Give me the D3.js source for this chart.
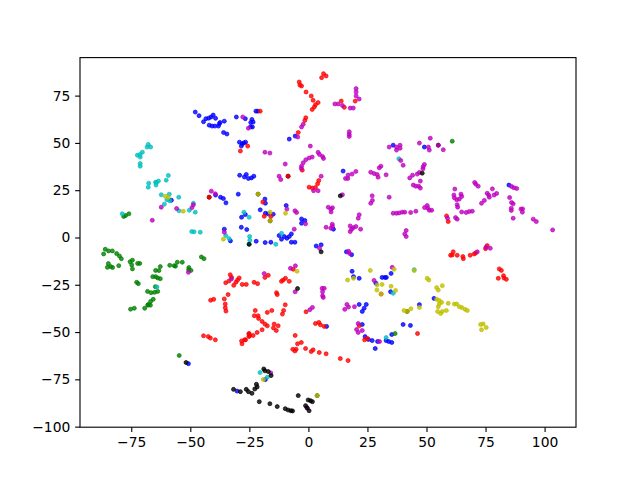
<!DOCTYPE html>
<html>
<head>
<meta charset="utf-8">
<script src="https://cdn.jsdelivr.net/npm/d3@7"></script>
<style>
  html, body { margin: 0; padding: 0; background: #fff; }
  svg { display: block; }
  text { font-family: "DejaVu Sans", sans-serif; }
</style>
</head>
<body>
<script>
const blue = [[-47.9,66.3],[-46.3,64.4],[-44.4,61.2],[-43.4,62.8],[-42.2,63.1],[-41.2,63.7],[-40.3,64.7],[-39.3,63],[-37.4,60.8],[-35.6,61.5],[-42,59.4],[-40.8,58.9],[-39.6,58.9],[-38.1,58.9],[-37.7,60.1],[-35.9,55.5],[-34.5,54.7],[-30.5,63.7],[-26.7,62.8],[-29.2,50.4],[-26.6,50.4],[-28,49.5],[-28.4,48.3],[-27.4,50],[-29.1,32.9],[-26.3,33.3],[-27.1,32],[-25.4,31.2],[-24.1,31.5],[-23.1,32.4],[-58,19.7],[-29.7,22.9],[-39.3,22.4],[-37.2,21.3],[-36,20.6],[-34.9,18.3],[-28.3,10.7],[-26.7,12.1],[-28.4,5.4],[-26.1,4.2],[-35.6,4.4],[-33,-1.8],[-30.2,-81.2],[-22.2,66.8],[-21.4,66.8],[-8.1,52],[-5.6,53.6],[-23.9,62.4],[-23.4,61],[-24.4,60.8],[-23.7,58.4],[-24.5,58.5],[14.7,35.1],[35.9,48.8],[49.1,47.8],[-18.4,20.3],[-18.2,18.1],[-9.4,16.9],[-20.4,14.6],[-18.2,12.8],[-17,12.5],[-14.9,12.3],[-2.9,9.8],[-1.5,9],[-2.9,7.5],[-7.2,1.9],[-8.1,0.5],[-9.1,-0.4],[-10.2,0.5],[-11.4,-0.9],[-12.4,1],[-7.2,-2.5],[-5.7,-2.5],[-22.1,-2],[-18.3,-2.7],[-15.9,-2.5],[3.3,-4.5],[5.4,-3.9],[10.6,4.4],[16.1,-7.6],[18.3,-9.1],[18.5,-17.9],[19.1,-20.7],[21.5,-21.6],[28.6,-24.2],[31.2,-21.1],[32.4,-21.1],[33,-21.1],[35,-19],[34.8,-28.7],[21.5,-35.4],[84.9,27.7],[53.2,-32.2],[47,-35.5],[7.7,-47],[22.8,-46],[24.5,-35.4],[23.6,-37.4],[22.8,-39.1],[24,-52.4],[25.4,-53.9],[27,-54.5],[29.3,-55],[28.3,-58.7],[32.9,-54.5],[34,-55],[35.3,-55.5],[35.3,-51.3],[40.1,-46],[43.2,-46.5],[-18.2,-75.1],[-50.8,-66.7]]

const green = [[-78.2,11.1],[-77.4,11.6],[-76,12.5],[-86,-6.2],[-86.7,-8.7],[-84.6,-7.1],[-83,-7.1],[-81.2,-8.5],[-80,-9.8],[-79.2,-11.2],[-84.7,-13.8],[-85.1,-15.8],[-83.7,-15.4],[-82.9,-15.9],[-80.3,-14.9],[-75.5,-12.8],[-74.5,-12],[-74.8,-14.5],[-74.5,-16.6],[-72.3,-13.7],[-71.4,-13.7],[-62.7,-15.4],[-63.3,-17.5],[-64.7,-17.4],[-65.9,-20.7],[-64.7,-20.7],[-63.8,-21.4],[-62.7,-21.8],[-58.7,-14.7],[-56.8,-14.9],[-55.5,-13.1],[-53.4,-13.1],[-56.3,-15.2],[-50.6,-15.9],[-49.7,-17.4],[-50.7,-17],[-45.3,-10.3],[-44.2,-11.2],[-72.7,-23.7],[-72,-24.4],[-64.8,-26],[-68.1,-28.5],[-66.6,-29.2],[-65.1,-29],[-63.8,-28.5],[-65.7,-32.7],[-66.8,-33.8],[-67.8,-35.4],[-75.3,-37.9],[-73.7,-37.4],[-69.3,-37.4],[-68,-35.8],[-66.9,-35.8],[-54.7,-62.4],[60.9,50.9],[36.7,-50.8]]

const red = [[-28.8,45.7],[-25.7,48.3],[-42,21.3],[-33.1,-19.7],[-32.5,-21.1],[-29.3,-21.4],[-30,-22.5],[-30.7,-23.7],[-31.6,-25.3],[-35,-23.9],[-33.6,-23],[-28,-24.8],[-26.3,-24.8],[-34,-30.2],[-35.6,-32.5],[-40.1,-32.7],[-41.4,-33.2],[-35.2,-35.2],[-35.2,-37.2],[-34.9,-38.9],[-44.4,-52],[-42.4,-52.4],[-41.5,-53.2],[-39.4,-54.1],[-28.3,-54.7],[-27,-54.1],[-28.1,-56.2],[-25.2,-50.9],[-25.2,-52.4],[-3.9,82.2],[-3.6,80.6],[-2.9,80.1],[6.4,86.6],[7.5,85.4],[5.6,84.5],[-1,76.9],[1.2,74.8],[2,72.5],[4.1,71.3],[3,70.2],[2.5,69],[1.6,67.7],[-1.1,63.3],[-1.5,61.9],[-4.3,55.5],[13.9,72.1],[15.2,68.8],[19.8,72.1],[-20.4,66.8],[-2.6,35.6],[4.4,30.1],[-8.6,32.4],[0.3,26.6],[1.7,26.1],[3,26.4],[3.9,28.4],[-19.3,18.7],[-15.9,11.1],[-18.7,11.2],[-6.4,-16.8],[-18.4,-21.1],[-17,-20],[-23,-23.7],[-21.5,-24.4],[-11.4,-23.2],[-9.7,-21.6],[-8.1,-23.2],[-10.7,-22.5],[-13.5,-29.2],[-13.2,-30.2],[-9.8,-35.6],[30.8,-29.9],[58.5,11.4],[59.2,8.4],[60.2,-9.4],[60.9,-9.2],[61.3,-7.6],[63,-9.4],[65.4,-10.1],[65.6,-11.2],[68.5,-9.4],[70.2,-8.7],[70.8,-8.2],[75.7,-4.3],[75,-5.9],[80.8,-16.6],[81.7,-17.4],[80.4,-21.6],[82.6,-20.2],[82.8,-21.4],[83.8,-22.1],[46.2,-50.8],[-10.5,-38.6],[-11,-40.5],[-15.5,-38.6],[-17.4,-39.6],[-22.5,-38.6],[-22.9,-41.4],[-21.3,-41.4],[-21.1,-42.8],[-19.6,-44.4],[-18.4,-45.8],[-17.4,-46.7],[-14.5,-45.8],[-12.8,-46.7],[-14.8,-47.8],[-13.6,-49.2],[-19.6,-48.8],[-21.7,-50.2],[-23.4,-51.8],[-25.1,-50.8],[-24.9,-52],[-26.6,-54.1],[-5.6,-51.8],[-4.6,-56.2],[-3,-55.5],[-6.6,-59.1],[-5.2,-59.1],[-5.7,-60],[-1.2,-58.7],[2,-59.4],[1.2,-60.3],[4.6,-60.8],[7.5,-61.5],[13.5,-64],[16.8,-65.1],[-1,-39.3],[3,-45.5],[4.4,-44.9],[5.1,-46.2],[6.7,-47],[23.8,-54.1],[25,-53.4],[21.5,-46.7]]

const cyan = [[-67.8,49.2],[-68.3,47.8],[-66.8,47.8],[-70.3,45.1],[-72.4,43.5],[-71.3,43.9],[-71.2,42.5],[-71.2,39.1],[-71.2,37.7],[-59.3,32.8],[-60.2,30.3],[-63.5,29.8],[-64.7,29.2],[-67.6,28.7],[-67.8,26.6],[-64.4,29.1],[-64.5,27.7],[-62.3,22.6],[-58.9,22.9],[-54.9,21.3],[-59.9,19.9],[-58.7,19.4],[-61,17.6],[-54.8,14.1],[-50.4,14.4],[-48.7,18.1],[-47.9,13.4],[-49.4,3.1],[-48.4,3],[-45.8,2.8],[-78.8,12.5],[-64.1,-26.2],[-35,1],[-33.6,-0.6],[-27.3,13.4],[-24.9,0.5],[-24.8,-1.5],[-25.1,10.7],[-11.4,2.2],[-25.1,-3.6],[-13.8,-3.6],[35.9,-29.5],[38.3,41.6],[32.9,-52.9],[-20.5,-71.4],[-17.4,-73.9],[44.8,-17]]

const magenta = [[-27.8,63.7],[-25.4,57.8],[-41.1,24.5],[-62.3,16],[-66.1,9.1],[-55.8,15.3],[-48.7,17.3],[-49.3,15.8],[-39.4,23.1],[-35.6,2.8],[-50.8,-18.4],[-32.6,-21.9],[-18.4,45.1],[-16.3,44.6],[-4.5,53.1],[-2.9,58.4],[-2.2,59.8],[11.2,70.6],[12.6,70.6],[14.4,69.8],[17.7,68.4],[19,68.4],[20.2,78.7],[20.2,76.9],[20.2,74.8],[21.5,73.2],[17.3,55.9],[17.3,54.5],[17.3,53.4],[0.8,48.3],[4.1,45],[4.7,43.9],[6,42.8],[6.4,41.8],[1.6,42.5],[0.3,42],[-1.1,41.1],[-2.2,39.5],[-2.9,37.7],[-3,36.5],[-9.8,38.8],[-12.4,32.4],[-11.7,30.6],[5.4,32.4],[15.7,31.2],[16.8,33],[16.7,31.2],[18.5,33.5],[20.1,34.9],[26.4,34.5],[27.8,33.8],[29.1,33.3],[29.5,31.9],[30,36.8],[30.7,37.7],[32.9,33.1],[34.2,47.8],[37.3,47.8],[38.8,48.8],[38.8,47.2],[37.3,46.2],[39.1,40.7],[40.1,38.2],[42.9,31.5],[44.1,32.9],[47,49.9],[51.6,52.5],[50.8,47.8],[51.2,46.2],[55,48.8],[57.1,46.4],[49.1,38.6],[48.6,37.4],[48.5,36.3],[47,34.4],[46.1,33.5],[2.2,24.7],[4.1,24.7],[-9.1,15],[-5.7,14.1],[-5,13.2],[-1.2,7.2],[-6,4.4],[4.7,-5.7],[14.4,22.6],[8.4,16],[9.5,15],[10.2,15.7],[9.6,13.5],[27,22],[27.1,19.6],[26.4,18.1],[34.2,21.3],[35.9,12.8],[37.3,12.8],[38.4,13],[39.7,13.4],[40.8,13.4],[21.5,12],[21.1,10.2],[7.5,5.4],[9.5,4.9],[10.1,7],[10.2,5.8],[17.7,6.1],[19,5.2],[18.3,4.4],[17.7,3.1],[20.1,5.8],[22.1,4.4],[41.4,3.7],[40.8,1.9],[41.4,0.5],[17,-7.3],[17.4,-8.4],[-7.6,-16.3],[-5.5,-15],[-18.7,-19.1],[-5.6,-28.7],[6.7,-26.9],[5.8,-26.9],[6,-28.7],[6,-30.8],[6.3,-31.7],[27.8,-22.7],[35.5,-15.8],[47.4,29.8],[44.4,27.7],[45.5,27.1],[46.7,27.1],[47.4,26.1],[62,25.6],[61.6,22.4],[61.8,21],[62.8,19.9],[63.9,20.3],[64.6,22.9],[64.9,21.7],[63,17.3],[63.2,16],[70.4,29.1],[70.9,28.2],[71.9,27.1],[77.9,25.7],[75.7,23.4],[76.3,22.4],[76.6,21.3],[78.6,22.4],[79.7,23.3],[73.3,18.1],[74.5,19.6],[86,27],[87,26.3],[88.2,25.9],[85.2,21.1],[86,18.5],[86.7,17.8],[85.9,15.5],[85.9,14.3],[90,15],[90.7,15.1],[90.6,13.4],[86.7,10.2],[95.2,9.7],[96.5,8.4],[103.4,4],[43.3,13.2],[45.5,13.9],[49.2,15.8],[50.3,16.9],[50.6,15.5],[51.2,14.4],[52.2,14.4],[64.9,13.5],[66.8,13.2],[68.1,13.7],[69.4,13.9],[58.9,10.2],[62.3,10.5],[63,9.7],[71.5,-7.6],[75.2,-5.2],[77,-5.7],[0.6,-38.2],[1.7,-37],[15.4,-38],[16.3,-35.4],[17,-36.8],[19.5,-36.6],[21.1,-45.5],[20.4,-48.7],[21.1,-50.2],[22.8,-49.2],[30.1,-55],[-15.9,-71.6],[-0.4,-90.3]]

const yellow = [[-60.6,21.8],[-59.3,21.3],[-53,13.9],[-36,-0.9],[-21.3,22.9],[-9.7,12.8],[-16.2,13.4],[-16.2,8.8],[-4.8,-17.9],[19.1,-21.6],[16.6,-22.5],[26.2,-17.4],[29.1,-25.1],[31.2,-24.8],[29,-27.8],[36.3,-16.8],[35,-25.8],[36.9,-28],[30.8,-29.9],[44.8,-17.5],[50.3,-21.6],[51,-22.5],[54.3,-26.5],[55,-27.8],[56.7,-25.5],[54.3,-32.7],[55.4,-33.3],[56.4,-34.3],[55.4,-35.2],[59.2,-34.8],[61.8,-35.2],[62.8,-35.2],[43.4,-37.7],[47,-37],[55,-36.6],[63.9,-36.6],[64.9,-37],[66.3,-38],[67.3,-38.6],[54.7,-39.1],[56,-40.2],[56.7,-39.1],[58.4,-38.6],[72.9,-46],[74,-45.7],[75.3,-47.6],[73.3,-48.8],[40.5,-38.6],[41.8,-39.1],[-19.1,-75.1],[3.7,-83.6]]

const black = [[-51.8,-66.1],[-31.7,-80.3],[-28.8,-81.5],[-26.3,-80.3],[-25.4,-81.5],[13.5,22],[5.4,-7.6],[-4.6,-27],[48.2,34],[-25.1,-3.6],[-18.9,-69.5],[-18.4,-70.5],[-17,-70.9],[-15.8,-73],[-23.9,-82.4],[-22.7,-80.1],[-22,-77.6],[-21.7,-79],[-20.8,-86.8],[-16.3,-87.9],[-13.2,-89.4],[-9.8,-90.5],[-8.6,-91.2],[-7.4,-91.6],[-6.7,-91.7],[-4.3,-83.6],[-0.1,-85.9],[0.9,-86.3],[1.7,-86.8],[-1.2,-88.9],[0.3,-91.6],[-0.6,-90]]

// black points that sit under another colour in the picture
const blackUnder = [[-8.6,32.4],[-42,21.3],[-21.3,22.9],[-16.2,8.8],[55,48.8],[41.8,-39.1],[3.7,-83.6]]

const xTicks = [-75, -50, -25, 0, 25, 50, 75, 100]
const yTicks = [-100, -75, -50, -25, 0, 25, 50, 75]

const svgWidth = 640
const svgHeight = 480
const margin = { top: 57.6, right: 64, bottom: 52.8, left: 80 }

const chartWidth = svgWidth - margin.left - margin.right
const chartHeight = svgHeight - margin.top - margin.bottom

const svg = d3.select("body").append("svg")
  .attr("width", svgWidth)
  .attr("height", svgHeight)

const chartG = svg.append("g")
  .attr("transform", `translate(${margin.left}, ${margin.top})`)

const x = d3.scaleLinear().domain([-96.7, 113.3]).range([0, chartWidth])
const y = d3.scaleLinear().domain([-100.3, 95.1]).range([chartHeight, 0])

const series = [
  { points: blackUnder, color: "rgb(0,0,0)" },
  { points: blue, color: "rgb(0,0,255)" },
  { points: green, color: "rgb(0,128,0)" },
  { points: red, color: "rgb(255,0,0)" },
  { points: cyan, color: "rgb(0,191,191)" },
  { points: magenta, color: "rgb(191,0,191)" },
  { points: yellow, color: "rgb(191,191,0)" },
  { points: black, color: "rgb(0,0,0)" }
]

series.forEach(s => {
  chartG.append("g").selectAll("circle")
    .data(s.points)
    .enter()
    .append("circle")
    .attr("cx", d => x(d[0]))
    .attr("cy", d => y(d[1]))
    .attr("r", 2)
    .attr("fill", s.color)
    .attr("fill-opacity", 0.8)
    .attr("stroke", s.color)
    .attr("stroke-opacity", 0.7)
    .attr("stroke-width", 1)
})

const xAxis = d3.axisBottom(x).tickValues(xTicks).tickSize(4.86).tickPadding(4.86)
const yAxis = d3.axisLeft(y).tickValues(yTicks).tickSize(4.86).tickPadding(4.86)

const xAxisG = chartG.append("g")
  .attr("transform", `translate(0, ${chartHeight})`)
  .call(xAxis)
const yAxisG = chartG.append("g").call(yAxis)

chartG.append("rect")
  .attr("width", chartWidth)
  .attr("height", chartHeight)
  .attr("fill", "none")
  .attr("stroke", "#000")
  .attr("stroke-width", 1.11)

xAxisG.selectAll(".domain").remove()
yAxisG.selectAll(".domain").remove()
svg.selectAll(".tick line").attr("stroke-width", 1.11).attr("stroke", "#000")
svg.selectAll(".tick text")
  .attr("font-family", "DejaVu Sans")
  .attr("font-size", 13.89)
  .attr("fill", "#000")
</script>
</body>
</html>
